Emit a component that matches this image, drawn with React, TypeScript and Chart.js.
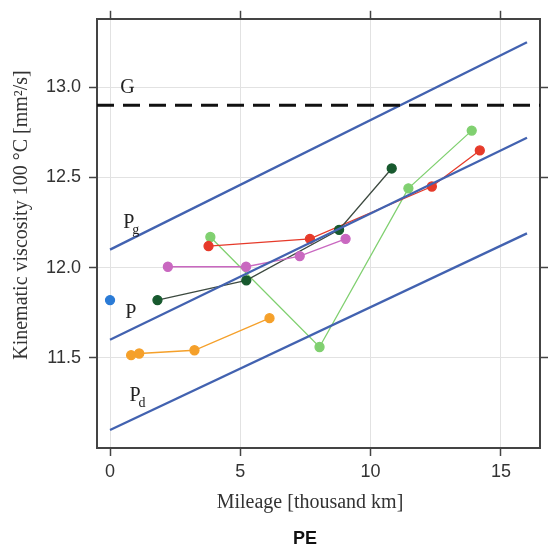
import React, { useEffect, useRef } from "react";
import { Chart, registerables } from "chart.js";

Chart.register(...registerables);

// Reference lines (x at start/end, y at start/end)
const refLineX = [0, 16];
const pgY = [12.1, 13.25];
const pY = [11.6, 12.72];
const pdY = [11.1, 12.19];
const gLimit = 12.9;
const gLineX = [-0.5, 16.5];

// Measured series
const blueX = [0];
const blueY = [11.82];
const orangeX = [0.81, 1.12, 3.24, 6.12];
const orangeY = [11.515, 11.524, 11.542, 11.72];
const pinkX = [2.22, 5.22, 7.28, 9.04];
const pinkY = [12.005, 12.005, 12.064, 12.16];
const darkGreenX = [1.82, 5.23, 8.79, 10.81];
const darkGreenY = [11.82, 11.93, 12.21, 12.55];
const redX = [3.78, 7.67, 12.35, 14.19];
const redY = [12.12, 12.16, 12.45, 12.65];
const lightGreenX = [3.85, 8.04, 11.45, 13.88];
const lightGreenY = [12.17, 11.56, 12.44, 12.76];

const xTicks = [0, 5, 10, 15];
const yTicks = [11.5, 12.0, 12.5, 13.0];

const xTitle = "Mileage [thousand km]";
const yTitle = "Kinematic viscosity 100 °C [mm²/s]";
const bottomTitle = "PE";

const toPts = (xs: number[], ys: number[]) => xs.map((x, i) => ({ x, y: ys[i] }));

const LINE_BLUE = "#4262b0";

const seriesDs = (xs: number[], ys: number[], color: string, lineColor?: string) => ({
  data: toPts(xs, ys),
  borderColor: lineColor || color,
  backgroundColor: color,
  pointBackgroundColor: color,
  pointBorderColor: color,
  pointRadius: 4.5,
  borderWidth: 1.3,
  tension: 0,
});

const refDs = (ys: number[]) => ({
  data: toPts(refLineX, ys),
  borderColor: LINE_BLUE,
  borderWidth: 2.3,
  pointRadius: 0,
  tension: 0,
});

const textPlugin = {
  id: "texts",
  afterDraw(chart: any) {
    const { ctx } = chart;
    const xs = chart.scales.x;
    const ys = chart.scales.y;
    ctx.save();
    ctx.fillStyle = "#222";
    ctx.textAlign = "center";
    ctx.textBaseline = "middle";
    const serif = "'Liberation Serif', 'Times New Roman', serif";
    // annotations
    const lab = (main: string, sub: string, vx: number, vy: number) => {
      const px = xs.getPixelForValue(vx);
      const py = ys.getPixelForValue(vy);
      ctx.font = `20px ${serif}`;
      ctx.textAlign = "center";
      ctx.fillText(main, px, py);
      if (sub) {
        const w = ctx.measureText(main).width;
        ctx.font = `14px ${serif}`;
        ctx.textAlign = "left";
        ctx.fillText(sub, px + w / 2 - 2, py + 8);
      }
    };
    lab("G", "", 0.67, 12.995);
    lab("P", "g", 0.72, 12.25);
    lab("P", "", 0.8, 11.748);
    lab("P", "d", 0.96, 11.292);

    // x title
    ctx.textAlign = "center";
    ctx.font = `20px ${serif}`;
    ctx.fillStyle = "#333";
    ctx.fillText(xTitle, 310, 503);
    // bottom title
    ctx.font = "bold 18px 'Liberation Sans', Arial, sans-serif";
    ctx.fillStyle = "#111";
    ctx.fillText(bottomTitle, 305, 539);
    // y title
    ctx.translate(22, 215);
    ctx.rotate(-Math.PI / 2);
    ctx.font = `20px ${serif}`;
    ctx.fillStyle = "#333";
    ctx.fillText(yTitle, 0, 0);
    ctx.restore();
  },
};

export default function App() {
  const ref = useRef<HTMLCanvasElement | null>(null);
  useEffect(() => {
    if (!ref.current) return;
    const tickFont = { family: "'Liberation Sans', Arial, sans-serif", size: 18 };
    const gridCommon = {
      color: "#e2e2e2",
      lineWidth: 1,
      tickColor: "#444",
      tickLength: 8,
      tickWidth: 1.5,
    };
    const border = { display: true, color: "#444", width: 2 };
    const chart = new Chart(ref.current, {
      type: "line",
      data: {
        datasets: [
          {
            data: toPts(gLineX, [gLimit, gLimit]),
            borderColor: "#111",
            borderWidth: 3,
            borderDash: [17, 9],
            pointRadius: 0,
          },
          refDs(pgY),
          refDs(pY),
          refDs(pdY),
          seriesDs(blueX, blueY, "#2b7bd6"),
          seriesDs(orangeX, orangeY, "#f5a02a"),
          seriesDs(pinkX, pinkY, "#c968c0"),
          seriesDs(darkGreenX, darkGreenY, "#17592e", "#3d4a40"),
          seriesDs(redX, redY, "#e63a2a"),
          seriesDs(lightGreenX, lightGreenY, "#80d070"),
        ] as any,
      },
      options: {
        animation: false,
        responsive: false,
        maintainAspectRatio: false,
        layout: { padding: 0 },
        plugins: { legend: { display: false }, tooltip: { enabled: false } },
        scales: {
          x: {
            type: "linear",
            position: "bottom",
            min: -0.5,
            max: 16.5,
            afterBuildTicks: (s: any) => {
              s.ticks = xTicks.map((v) => ({ value: v }));
            },
            afterFit: (s: any) => {
              s.height = 102;
            },
            ticks: { font: tickFont, color: "#333", padding: 5 },
            grid: gridCommon,
            border,
          },
          x2: {
            type: "linear",
            position: "top",
            min: -0.5,
            max: 16.5,
            afterBuildTicks: (s: any) => {
              s.ticks = xTicks.map((v) => ({ value: v }));
            },
            afterFit: (s: any) => {
              s.height = 14;
            },
            ticks: { display: false },
            grid: { ...gridCommon, drawOnChartArea: false },
            border,
          },
          y: {
            type: "linear",
            position: "left",
            min: 11.0,
            max: 13.38,
            afterBuildTicks: (s: any) => {
              s.ticks = yTicks.map((v) => ({ value: v }));
            },
            afterFit: (s: any) => {
              s.width = 97;
            },
            ticks: {
              font: tickFont,
              color: "#333",
              padding: 8,
              callback: (v: any) => Number(v).toFixed(1),
            },
            grid: gridCommon,
            border,
          },
          y2: {
            type: "linear",
            position: "right",
            min: 11.0,
            max: 13.38,
            afterBuildTicks: (s: any) => {
              s.ticks = yTicks.map((v) => ({ value: v }));
            },
            afterFit: (s: any) => {
              s.width = 12;
            },
            ticks: { display: false },
            grid: { ...gridCommon, drawOnChartArea: false },
            border,
          },
        },
      } as any,
      plugins: [textPlugin],
    });
    return () => chart.destroy();
  }, []);
  return (
    <div style={{ position: "absolute", left: 0, top: 0, width: 552, height: 550, background: "#fff" }}>
      <canvas ref={ref} width={552} height={550} style={{ display: "block", width: 552, height: 550 }} />
    </div>
  );
}
